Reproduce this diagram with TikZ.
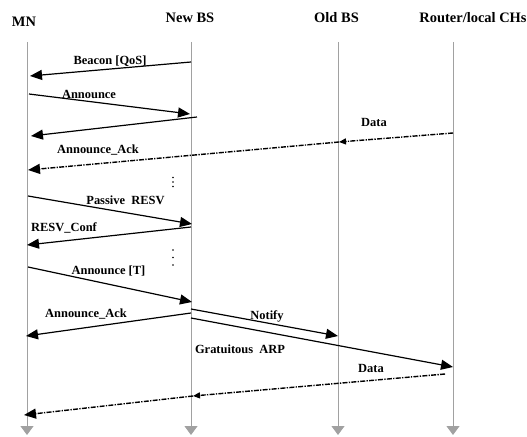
\documentclass[tikz,border=0pt]{standalone}
\usepackage{fontspec}
\setmainfont{Liberation Serif}
\usetikzlibrary{arrows.meta}

\begin{document}
\begin{tikzpicture}
  [x=1bp,y=-1bp,
   every node/.style={font=\bfseries\fontsize{12.5}{14}\selectfont,inner sep=0pt},
   head/.style={font=\bfseries\fontsize{14.5}{16}\selectfont},
   life/.style={draw=black!37,line width=1bp,-{Triangle[length=9bp,width=13bp,fill=black!37]}},
   msg/.style={line width=1.2bp,-{Triangle[length=12bp,width=10bp]}},
   data/.style={msg,line width=1.4bp,dash pattern=on 5bp off 1.3bp on 1.3bp off 1.3bp},
   hop/.style={data,-{Triangle[length=7bp,width=6bp]}}]
  \useasboundingbox (0,0) rectangle (527,437);

  % entities
  \node [head] (mn) at (24,22) {MN};
  \node [head] (newbs) at (190,17.5) {New BS};
  \node [head] (oldbs) at (336.5,17.5) {Old BS};
  \node [head] (router) at (473,18) {Router/local CHs};

  \coordinate (mnT) at (27,42);
  \coordinate (newT) at (191,42);
  \coordinate (oldT) at (338,42);
  \coordinate (rtT) at (453,42);
  \coordinate (mnB) at (27,435);
  \coordinate (newB) at (191,435);
  \coordinate (oldB) at (338,435);
  \coordinate (rtB) at (453,435);

  \foreach \from/\to in {mnT/mnB,newT/newB,oldT/oldB,rtT/rtB}
    \draw [life] (\from) -- (\to);

  % messages
  \draw [msg] (newT |- 0,62) -- ([xshift=3]mnT |- 0,76);
  \draw [msg] ([xshift=2]mnT |- 0,94) -- ([xshift=-1]newT |- 0,114);
  \draw [msg] ([xshift=6]newT |- 0,117) -- ([xshift=4]mnT |- 0,136);
  \draw [hop] (rtT |- 0,133) -- ([xshift=1]oldT |- 0,142);
  \draw [data] ([xshift=1]oldT |- 0,142) -- ([xshift=1]mnT |- 0,170);
  \draw [msg] ([xshift=1]mnT |- 0,196) -- ([xshift=1]newT |- 0,224);
  \draw [msg] (newT |- 0,227) -- (mnT |- 0,245);
  \draw [msg] ([xshift=1]mnT |- 0,267) -- ([xshift=1]newT |- 0,302);
  \draw [msg] (newT |- 0,313) -- ([xshift=-1]mnT |- 0,336);
  \draw [msg] (newT |- 0,309) -- (oldT |- 0,336);
  \draw [msg] (newT |- 0,318) -- (rtT |- 0,367);
  \draw [hop] ([xshift=-8]rtT |- 0,374) -- ([xshift=2]newT |- 0,396);
  \draw [data] ([xshift=2]newT |- 0,396) -- ([xshift=-3]mnT |- 0,415);

  % labels
  \node (l1) at (110,61) {Beacon [QoS]};
  \node (l2) at (89,94) {Announce};
  \node (l3) at (98,150) {Announce\_Ack};
  \node (l4) at (374,122) {Data};
  \node (l5) at (125.5,200) {Passive\ \ RESV};
  \node (l6) at (64,228) {RESV\_Conf};
  \node (l7) at (108.5,271.5) {Announce [T]};
  \node (l8) at (86,314.5) {Announce\_Ack};
  \node (l9) at (267,316) {Notify};
  \node (l10) at (240,349.5) {Gratuitous\ \ ARP};
  \node (l11) at (371,368) {Data};

  % pauses
  \foreach \y in {177.5,182,186.5}
    \fill (173,\y) circle (0.8);
  \foreach \y in {250,257.5,265}
    \fill (173,\y) circle (0.8);

\end{tikzpicture}
\end{document}
